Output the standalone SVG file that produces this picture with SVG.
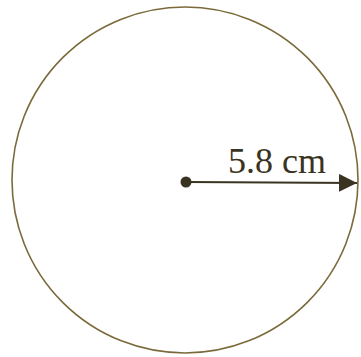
<svg xmlns="http://www.w3.org/2000/svg" width="361" height="357" viewBox="0 0 361 357">
<style>
.circ{fill:none;stroke:#7a6a3a;stroke-width:1.6}
.lbl{font-family:"Liberation Serif",serif;font-size:36px;fill:#3a3322}
</style>
<defs>
<marker id="ah" markerWidth="20" markerHeight="20" refX="18" refY="9" orient="auto" markerUnits="userSpaceOnUse">
<path d="M0,0 L18,9 L0,18 Z" fill="#3a3322"/>
</marker>
</defs>
<rect width="361" height="357" fill="#ffffff"/>
<g id="circle"><circle class="circ" cx="185" cy="180" r="173"/></g>
<g id="center"><circle cx="186" cy="182" r="5.5" fill="#3a3322"/></g>
<g id="connectors">
<line x1="186" y1="182" x2="357" y2="183" stroke="#3a3322" stroke-width="2.2" marker-end="url(#ah)"/>
</g>
<g id="label"><text class="lbl" x="228" y="173">5.8 cm</text></g>
</svg>
